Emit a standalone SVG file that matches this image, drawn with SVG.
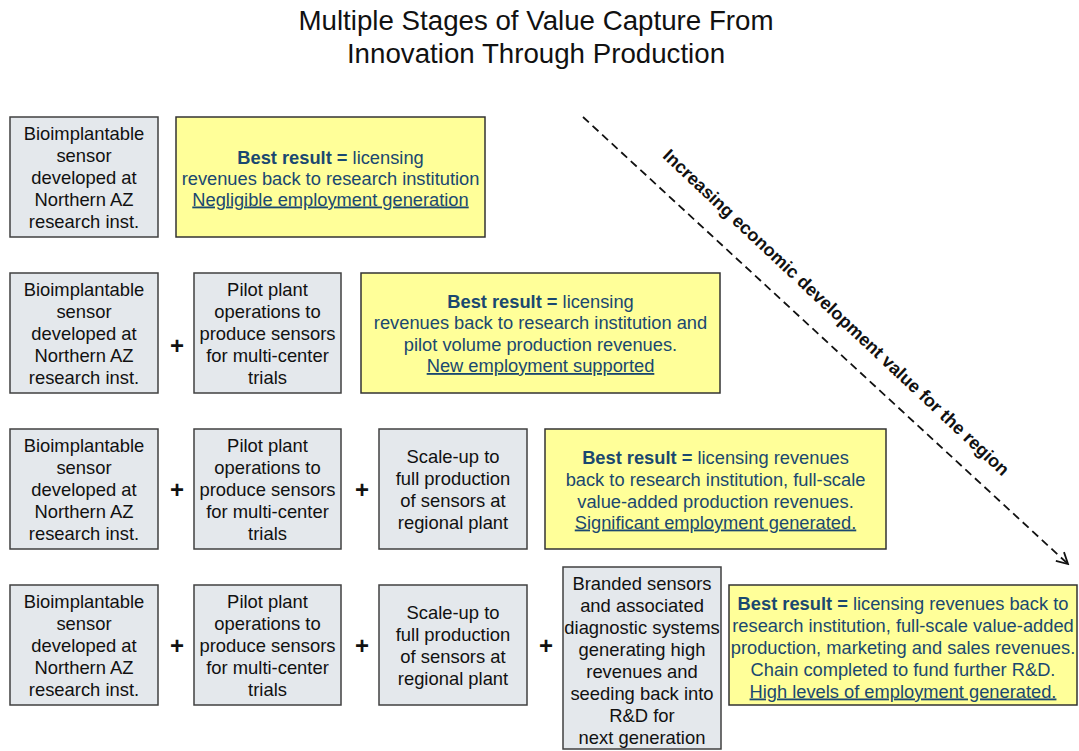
<svg xmlns="http://www.w3.org/2000/svg" width="1079" height="751" viewBox="0 0 1079 751">
<style>
.g{fill:#e4e8ec;stroke:#404040;stroke-width:1.5}
.y{fill:#ffff99;stroke:#333333;stroke-width:1.5}
.t{font-family:"Liberation Sans",Arial,sans-serif;font-size:18.4px;fill:#111;text-anchor:middle}
.b{font-family:"Liberation Sans",Arial,sans-serif;font-size:18.3px;fill:#1a4870;text-anchor:middle}
.bb{font-weight:bold}
.u{text-decoration:underline}
.p{font-family:"Liberation Sans",Arial,sans-serif;font-size:24px;font-weight:bold;fill:#111;text-anchor:middle}
.title{font-family:"Liberation Sans",Arial,sans-serif;font-size:27.7px;fill:#111;text-anchor:middle}
</style>
<defs>
<marker id="ah" markerWidth="14" markerHeight="14" refX="12" refY="7" orient="auto" markerUnits="userSpaceOnUse">
<path d="M1,1 L12,7 L1,13" fill="none" stroke="#111" stroke-width="1.8"/>
</marker>
</defs>
<rect width="1079" height="751" fill="#ffffff"/>
<g id="title">
<text class="title" x="536" y="30">Multiple Stages of Value Capture From</text>
<text class="title" x="536" y="63">Innovation Through Production</text>
</g>

<g id="r1-sensor">
<rect class="g" x="10" y="117" width="148" height="120"/>
<text class="t" x="84" y="140">Bioimplantable</text>
<text class="t" x="84" y="162">sensor</text>
<text class="t" x="84" y="184">developed at</text>
<text class="t" x="84" y="206">Northern AZ</text>
<text class="t" x="84" y="228">research inst.</text>
</g>
<g id="r1-result">
<rect class="y" x="176" y="117" width="309" height="120"/>
<text class="b" x="330.5" y="163.5"><tspan class="bb">Best result =</tspan> licensing</text>
<text class="b" x="330.5" y="184.5">revenues back to research institution</text>
<text class="b u" x="330.5" y="205.5">Negligible employment generation</text>
</g>

<g id="r2-sensor">
<rect class="g" x="10" y="273" width="148" height="120"/>
<text class="t" x="84" y="296">Bioimplantable</text>
<text class="t" x="84" y="318">sensor</text>
<text class="t" x="84" y="340">developed at</text>
<text class="t" x="84" y="362">Northern AZ</text>
<text class="t" x="84" y="384">research inst.</text>
</g>
<g id="r2-pilot">
<rect class="g" x="194" y="273" width="147" height="120"/>
<text class="t" x="267.5" y="296">Pilot plant</text>
<text class="t" x="267.5" y="318">operations to</text>
<text class="t" x="267.5" y="340">produce sensors</text>
<text class="t" x="267.5" y="362">for multi-center</text>
<text class="t" x="267.5" y="384">trials</text>
</g>
<g id="r2-result">
<rect class="y" x="361" y="273" width="359" height="120"/>
<text class="b" x="540.5" y="307.5"><tspan class="bb">Best result =</tspan> licensing</text>
<text class="b" x="540.5" y="329">revenues back to research institution and</text>
<text class="b" x="540.5" y="350.5">pilot volume production revenues.</text>
<text class="b u" x="540.5" y="372">New employment supported</text>
</g>

<g id="r3-sensor">
<rect class="g" x="10" y="429" width="148" height="120"/>
<text class="t" x="84" y="452">Bioimplantable</text>
<text class="t" x="84" y="474">sensor</text>
<text class="t" x="84" y="496">developed at</text>
<text class="t" x="84" y="518">Northern AZ</text>
<text class="t" x="84" y="540">research inst.</text>
</g>
<g id="r3-pilot">
<rect class="g" x="194" y="429" width="147" height="120"/>
<text class="t" x="267.5" y="452">Pilot plant</text>
<text class="t" x="267.5" y="474">operations to</text>
<text class="t" x="267.5" y="496">produce sensors</text>
<text class="t" x="267.5" y="518">for multi-center</text>
<text class="t" x="267.5" y="540">trials</text>
</g>
<g id="r3-scale">
<rect class="g" x="379" y="429" width="148" height="120"/>
<text class="t" x="453" y="463">Scale-up to</text>
<text class="t" x="453" y="485">full production</text>
<text class="t" x="453" y="507">of sensors at</text>
<text class="t" x="453" y="529">regional plant</text>
</g>
<g id="r3-result">
<rect class="y" x="545" y="429" width="341" height="120"/>
<text class="b" x="715.5" y="463.5"><tspan class="bb">Best result =</tspan> licensing revenues</text>
<text class="b" x="715.5" y="485.5">back to research institution, full-scale</text>
<text class="b" x="715.5" y="507.5">value-added production revenues.</text>
<text class="b u" x="715.5" y="528.5">Significant employment generated.</text>
</g>

<g id="r4-sensor">
<rect class="g" x="10" y="585" width="148" height="120"/>
<text class="t" x="84" y="608">Bioimplantable</text>
<text class="t" x="84" y="630">sensor</text>
<text class="t" x="84" y="652">developed at</text>
<text class="t" x="84" y="674">Northern AZ</text>
<text class="t" x="84" y="696">research inst.</text>
</g>
<g id="r4-pilot">
<rect class="g" x="194" y="585" width="147" height="120"/>
<text class="t" x="267.5" y="608">Pilot plant</text>
<text class="t" x="267.5" y="630">operations to</text>
<text class="t" x="267.5" y="652">produce sensors</text>
<text class="t" x="267.5" y="674">for multi-center</text>
<text class="t" x="267.5" y="696">trials</text>
</g>
<g id="r4-scale">
<rect class="g" x="379" y="585" width="148" height="120"/>
<text class="t" x="453" y="619">Scale-up to</text>
<text class="t" x="453" y="641">full production</text>
<text class="t" x="453" y="663">of sensors at</text>
<text class="t" x="453" y="685">regional plant</text>
</g>
<g id="r4-branded">
<rect class="g" x="563" y="567" width="158" height="182"/>
<text class="t" x="642" y="590">Branded sensors</text>
<text class="t" x="642" y="612">and associated</text>
<text class="t" x="642" y="634">diagnostic systems</text>
<text class="t" x="642" y="656">generating high</text>
<text class="t" x="642" y="678">revenues and</text>
<text class="t" x="642" y="700">seeding back into</text>
<text class="t" x="642" y="722">R&amp;D for</text>
<text class="t" x="642" y="744">next generation</text>
</g>
<g id="r4-result">
<rect class="y" x="729" y="585" width="348" height="120"/>
<text class="b" x="903" y="609.5"><tspan class="bb">Best result =</tspan> licensing revenues back to</text>
<text class="b" x="903" y="631.5">research institution, full-scale value-added</text>
<text class="b" x="903" y="653.5">production, marketing and sales revenues.</text>
<text class="b" x="903" y="675.5">Chain completed to fund further R&amp;D.</text>
<text class="b u" x="903" y="697.5">High levels of employment generated.</text>
</g>

<g id="plus-signs">
<text class="p" x="177" y="354">+</text>
<text class="p" x="177" y="498">+</text>
<text class="p" x="362" y="498">+</text>
<text class="p" x="177" y="654">+</text>
<text class="p" x="362" y="654">+</text>
<text class="p" x="546" y="654">+</text>
</g>

<g id="connectors">
<line x1="583" y1="117" x2="1068" y2="564" stroke="#111" stroke-width="1.8" stroke-dasharray="8,5" marker-end="url(#ah)"/>
</g>
<g id="arrow-label">
<text transform="translate(832,317) rotate(43.2)" x="0" y="0" font-family="Liberation Sans, Arial, sans-serif" font-size="18" font-weight="bold" fill="#111" text-anchor="middle">Increasing economic development value for the region</text>
</g>
</svg>
